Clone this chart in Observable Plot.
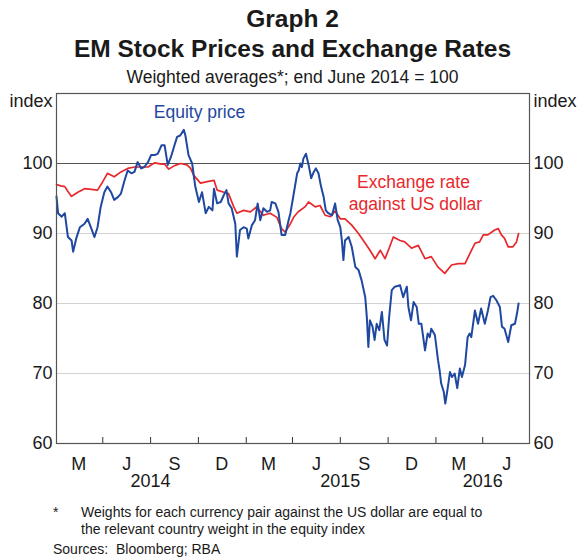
<!DOCTYPE html>
<html>
<head>
<meta charset="utf-8">
<script src="https://cdn.jsdelivr.net/npm/d3@7"></script>
<script src="https://cdn.jsdelivr.net/npm/@observablehq/plot@0.6"></script>
<style>
  body { margin: 0; background: #fff; font-family: Arial, "Liberation Sans", sans-serif; color: #1a1a1a; }
  #page { position: relative; width: 577px; height: 558px; overflow: hidden; }
  .hl { position: absolute; left: 56px; width: 473px; text-align: center; line-height: 1; white-space: nowrap; }
  .t1 { font-weight: bold; font-size: 24.5px; }
  .t3 { font-size: 17.5px; }
  #chart { position: absolute; left: 0; top: 88px; }
  .fn { position: absolute; font-size: 14px; line-height: 1; white-space: nowrap; }
</style>
</head>
<body>
<div id="page">
  <div class="hl t1" style="top:6.8px">Graph 2</div>
  <div class="hl t1" style="top:36.8px">EM Stock Prices and Exchange Rates</div>
  <div class="hl t3" style="top:69.2px">Weighted averages*; end June 2014 = 100</div>
  <div id="chart"></div>
  <div class="fn" style="left:53px; top:505px">*</div>
  <div class="fn" style="left:81px; top:505px">Weights for each currency pair against the US dollar are equal to</div>
  <div class="fn" style="left:81px; top:522px">the relevant country weight in the equity index</div>
  <div class="fn" style="left:53px; top:542px">Sources:&nbsp;&nbsp;Bloomberg; RBA</div>
</div>
<script>
// Exchange rate against US dollar (index, end June 2014 = 100)
const exchangeRate = [
["2014-02-01",97.0],["2014-02-09",96.8],["2014-02-17",96.7],["2014-02-23",96.0],["2014-03-02",95.3],["2014-03-08",95.6],["2014-03-14",95.9],["2014-03-27",96.4],["2014-04-09",96.3],["2014-04-21",96.2],["2014-05-01",97.4],["2014-05-10",98.6],["2014-05-23",98.1],["2014-06-05",98.8],["2014-06-18",99.3],["2014-07-01",99.5],["2014-07-14",99.5],["2014-07-27",99.5],["2014-08-09",100.1],["2014-08-22",99.9],["2014-08-28",99.9],["2014-09-05",99.2],["2014-09-16",99.7],["2014-09-28",100.0],["2014-10-10",99.8],["2014-10-17",99.3],["2014-10-23",98.3],["2014-11-05",97.2],["2014-11-18",97.4],["2014-12-01",97.6],["2014-12-07",96.2],["2014-12-20",95.9],["2014-12-29",95.7],["2015-01-08",93.8],["2015-01-14",92.9],["2015-01-27",93.3],["2015-02-09",93.1],["2015-02-21",93.8],["2015-03-06",92.6],["2015-03-19",92.9],["2015-04-01",92.3],["2015-04-10",90.7],["2015-04-17",90.2],["2015-04-27",91.4],["2015-05-04",92.4],["2015-05-12",93.1],["2015-05-25",93.8],["2015-06-01",94.5],["2015-06-14",93.8],["2015-06-23",94.0],["2015-07-03",92.6],["2015-07-13",92.4],["2015-07-22",93.2],["2015-08-01",92.1],["2015-08-10",92.1],["2015-08-23",91.2],["2015-09-05",90.0],["2015-09-18",88.6],["2015-09-27",87.6],["2015-10-07",86.4],["2015-10-17",87.6],["2015-10-26",86.4],["2015-11-04",88.1],["2015-11-11",89.5],["2015-11-24",89.0],["2015-12-03",88.8],["2015-12-16",87.9],["2015-12-29",88.3],["2016-01-11",86.4],["2016-01-23",86.7],["2016-02-05",85.2],["2016-02-18",84.3],["2016-03-02",85.5],["2016-03-15",85.7],["2016-03-28",85.7],["2016-04-06",87.1],["2016-04-16",88.6],["2016-04-25",88.8],["2016-05-02",89.8],["2016-05-11",89.8],["2016-05-24",90.5],["2016-05-31",90.7],["2016-06-06",89.8],["2016-06-12",89.3],["2016-06-19",88.1],["2016-06-28",88.1],["2016-07-05",88.8],["2016-07-09",90.0]
];

// Equity price (index, end June 2014 = 100)
const equityPrice = [
["2014-02-01",95.3],["2014-02-04",92.9],["2014-02-11",92.4],["2014-02-17",92.9],["2014-02-23",89.5],["2014-03-02",89.0],["2014-03-05",87.4],["2014-03-11",89.3],["2014-03-18",90.9],["2014-03-27",91.4],["2014-04-02",92.1],["2014-04-08",90.9],["2014-04-15",89.5],["2014-04-21",90.9],["2014-04-27",93.8],["2014-05-04",95.9],["2014-05-10",96.7],["2014-05-17",95.9],["2014-05-23",94.8],["2014-05-30",95.2],["2014-06-05",95.7],["2014-06-12",97.6],["2014-06-18",99.0],["2014-06-25",98.6],["2014-07-01",98.8],["2014-07-07",100.2],["2014-07-14",99.3],["2014-07-20",99.5],["2014-07-27",100.2],["2014-08-02",101.2],["2014-08-09",101.2],["2014-08-15",101.4],["2014-08-22",102.6],["2014-08-28",102.6],["2014-09-03",99.8],["2014-09-09",100.9],["2014-09-16",102.6],["2014-09-21",103.8],["2014-09-27",104.0],["2014-10-04",104.8],["2014-10-07",104.0],["2014-10-13",101.2],["2014-10-20",100.0],["2014-10-26",96.7],["2014-11-02",94.5],["2014-11-08",95.9],["2014-11-15",92.9],["2014-11-21",93.8],["2014-11-28",93.3],["2014-12-01",96.4],["2014-12-07",94.3],["2014-12-14",94.5],["2014-12-20",95.5],["2014-12-25",96.2],["2014-12-29",94.3],["2015-01-04",93.6],["2015-01-11",91.4],["2015-01-14",86.7],["2015-01-20",90.5],["2015-01-27",90.9],["2015-02-02",90.7],["2015-02-05",89.3],["2015-02-12",91.2],["2015-02-18",91.9],["2015-02-23",94.3],["2015-02-28",91.9],["2015-03-06",93.6],["2015-03-13",93.1],["2015-03-19",93.3],["2015-03-22",94.5],["2015-03-29",94.3],["2015-04-04",93.1],["2015-04-10",89.8],["2015-04-17",89.8],["2015-04-23",91.7],["2015-04-27",92.9],["2015-05-03",95.5],["2015-05-10",98.6],["2015-05-13",99.0],["2015-05-16",100.0],["2015-05-19",99.5],["2015-05-22",100.7],["2015-05-27",101.4],["2015-06-01",99.8],["2015-06-06",97.9],["2015-06-11",98.8],["2015-06-15",99.3],["2015-06-20",98.6],["2015-06-25",96.7],["2015-06-30",95.2],["2015-07-04",93.3],["2015-07-09",92.9],["2015-07-16",92.6],["2015-07-22",94.3],["2015-07-27",91.9],["2015-08-01",90.9],["2015-08-04",89.0],["2015-08-07",86.2],["2015-08-10",89.0],["2015-08-17",89.5],["2015-08-23",88.1],["2015-08-30",85.2],["2015-09-05",84.8],["2015-09-11",83.3],["2015-09-18",80.9],["2015-09-21",78.1],["2015-09-24",73.8],["2015-09-27",77.6],["2015-10-02",76.7],["2015-10-06",74.8],["2015-10-10",77.1],["2015-10-15",76.2],["2015-10-20",78.8],["2015-10-25",74.8],["2015-10-30",74.0],["2015-11-03",78.1],["2015-11-08",81.9],["2015-11-14",82.4],["2015-11-24",82.6],["2015-11-30",80.9],["2015-12-07",82.4],["2015-12-10",79.5],["2015-12-15",77.6],["2015-12-20",80.2],["2015-12-26",79.5],["2015-12-30",77.1],["2016-01-04",77.1],["2016-01-11",73.3],["2016-01-16",75.7],["2016-01-20",75.2],["2016-01-23",76.4],["2016-01-30",75.5],["2016-02-05",71.9],["2016-02-08",70.5],["2016-02-11",68.6],["2016-02-16",67.4],["2016-02-19",65.7],["2016-02-23",67.6],["2016-02-28",70.2],["2016-03-03",69.5],["2016-03-08",70.0],["2016-03-13",67.9],["2016-03-18",70.7],["2016-03-22",69.5],["2016-03-28",71.2],["2016-04-02",75.2],["2016-04-06",75.7],["2016-04-09",75.2],["2016-04-16",79.0],["2016-04-22",77.1],["2016-04-28",79.3],["2016-05-05",77.1],["2016-05-11",79.0],["2016-05-16",80.9],["2016-05-21",81.1],["2016-05-27",80.5],["2016-06-03",79.5],["2016-06-07",76.7],["2016-06-12",76.4],["2016-06-19",74.5],["2016-06-25",76.9],["2016-07-02",77.1],["2016-07-06",78.6],["2016-07-09",80.0]
];

const xDomain = ["2014-02-01", "2016-07-30"];
const yDomain = [60, 110];
const yTicks = [60, 70, 80, 90, 100];
const gridValues = [70, 80, 90];
const referenceValue = [100];
const quarterTicks = ["2014-05-01","2014-08-01","2014-11-01","2015-02-01","2015-05-01","2015-08-01","2015-11-01","2016-02-01","2016-05-01"];
const monthLabelDates = ["2014-03-16","2014-06-16","2014-09-16","2014-12-16","2015-03-16","2015-06-16","2015-09-16","2015-12-16","2016-03-16","2016-06-16"];
const monthLabels = ["M","J","S","D","M","J","S","D","M","J"];
const yearLabelDates = ["2014-08-01","2015-08-01","2016-05-01"];
const yearLabels = ["2014","2015","2016"];

const blue = "#1f48a0";
const red = "#e8282c";

const toRows = arr => arr.map(([d, v]) => ({date: new Date(d), value: v}));
const fxRows = toRows(exchangeRate);
const eqRows = toRows(equityPrice);
const monthRows = monthLabelDates.map((d, i) => ({date: new Date(d), label: monthLabels[i]}));
const yearRows = yearLabelDates.map((d, i) => ({date: new Date(d), label: yearLabels[i]}));

const chart = Plot.plot({
  width: 577,
  height: 400,
  marginTop: 5,
  marginBottom: 45,
  marginLeft: 56,
  marginRight: 48,
  style: {fontFamily: "Arial, 'Liberation Sans', sans-serif", fontSize: "18px", color: "#1a1a1a", background: "white", overflow: "visible"},
  x: {type: "utc", domain: xDomain.map(d => new Date(d)), axis: null},
  y: {domain: yDomain, axis: null},
  marks: [
    Plot.ruleY(gridValues, {stroke: "#d2d2d2", strokeWidth: 1.2}),
    Plot.ruleY(referenceValue, {stroke: "#555", strokeWidth: 1.2}),
    Plot.line(fxRows, {x: "date", y: "value", stroke: red, strokeWidth: 1.7}),
    Plot.line(eqRows, {x: "date", y: "value", stroke: blue, strokeWidth: 2}),
    Plot.tickX(quarterTicks.map(d => new Date(d)), {x: d => d, insetTop: 344, stroke: "#333", strokeWidth: 1}),
    Plot.frame({stroke: "#555", strokeWidth: 1.2}),
    Plot.axisY({anchor: "left", ticks: yTicks, tickSize: 0, tickPadding: 4, label: null}),
    Plot.axisY({anchor: "right", ticks: yTicks, tickSize: 0, tickPadding: 4, label: null}),
    Plot.text(["index"], {frameAnchor: "top-left", textAnchor: "end", lineAnchor: "middle", dx: -4, dy: 8}),
    Plot.text(["index"], {frameAnchor: "top-right", textAnchor: "start", lineAnchor: "middle", dx: 4, dy: 8}),
    Plot.text(monthRows, {x: "date", text: "label", frameAnchor: "bottom", lineAnchor: "middle", dy: 21}),
    Plot.text(yearRows, {x: "date", text: "label", frameAnchor: "bottom", lineAnchor: "middle", dy: 38}),
    Plot.text(["Equity price"], {frameAnchor: "top-left", lineAnchor: "middle", dx: 143, dy: 19, textAnchor: "middle", fill: blue, fontSize: 17.5}),
    Plot.text(["Exchange rate"], {frameAnchor: "top-left", lineAnchor: "middle", dx: 357, dy: 89, textAnchor: "middle", fill: red, fontSize: 17.5}),
    Plot.text(["against US dollar"], {frameAnchor: "top-left", lineAnchor: "middle", dx: 359, dy: 111, textAnchor: "middle", fill: red, fontSize: 17.5})
  ]
});
document.getElementById("chart").appendChild(chart);
</script>
</body>
</html>
